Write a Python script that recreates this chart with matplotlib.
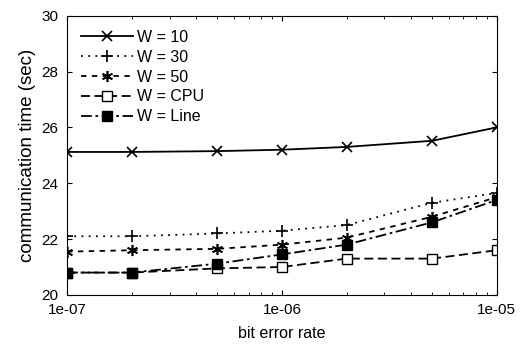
import matplotlib
matplotlib.use('Agg')
import matplotlib.pyplot as plt

plt.rcParams['font.family'] = ['Liberation Sans', 'DejaVu Sans']

ber = [1e-7, 2e-7, 5e-7, 1e-6, 2e-6, 5e-6, 1e-5]
w10 = [25.12, 25.12, 25.15, 25.2, 25.3, 25.52, 26.0]
w30 = [22.1, 22.1, 22.2, 22.3, 22.5, 23.3, 23.65]
w50 = [21.55, 21.6, 21.65, 21.8, 22.05, 22.8, 23.5]
wcpu = [20.8, 20.8, 20.95, 21.0, 21.3, 21.3, 21.6]
wline = [20.8, 20.8, 21.12, 21.45, 21.8, 22.6, 23.4]

fig = plt.figure(figsize=(5.24, 3.49), dpi=100)
ax = fig.add_axes([0.128, 0.155, 0.82, 0.80])

ax.plot(ber, w10, color='black', lw=1.3, ls='-', marker='x', ms=7, mew=1.2, label='W = 10')
ax.plot(ber, w30, color='black', lw=1.3, ls=(0, (1, 3)), marker='+', ms=9, mew=1.2, label='W = 30')
ax.plot(ber, w50, color='black', lw=1.3, ls=(0, (3, 3)), marker=(6, 2, 0), ms=8, mew=1.2, label='W = 50')
ax.plot(ber, wcpu, color='black', lw=1.3, ls=(0, (5, 2.5)), marker='s', ms=7, mfc='white', mew=1.0, label='W = CPU')
ax.plot(ber, wline, color='black', lw=1.3, ls=(0, (6, 2, 1.5, 2)), marker='s', ms=7, mfc='black', label='W = Line')

ax.set_xscale('log')
ax.set_xlim(1e-7, 1e-5)
ax.set_ylim(20, 30)
ax.set_yticks([20, 22, 24, 26, 28, 30])
ax.set_xticks([1e-7, 1e-6, 1e-5])
ax.set_xticklabels(['1e-07', '1e-06', '1e-05'])
ax.tick_params(direction='in', top=True, right=True, labelsize=11, pad=6)
ax.tick_params(which='minor', direction='in', top=True)

ax.set_xlabel('bit error rate', fontsize=11.5, labelpad=6)
ax.set_ylabel('communication time (sec)', fontsize=13.5, labelpad=4)

ax.legend(loc='upper left', frameon=False, fontsize=11.5, handlelength=3.2,
          handletextpad=0.3, labelspacing=0.3, borderaxespad=0.5)

fig.savefig('out.png', dpi=100)
